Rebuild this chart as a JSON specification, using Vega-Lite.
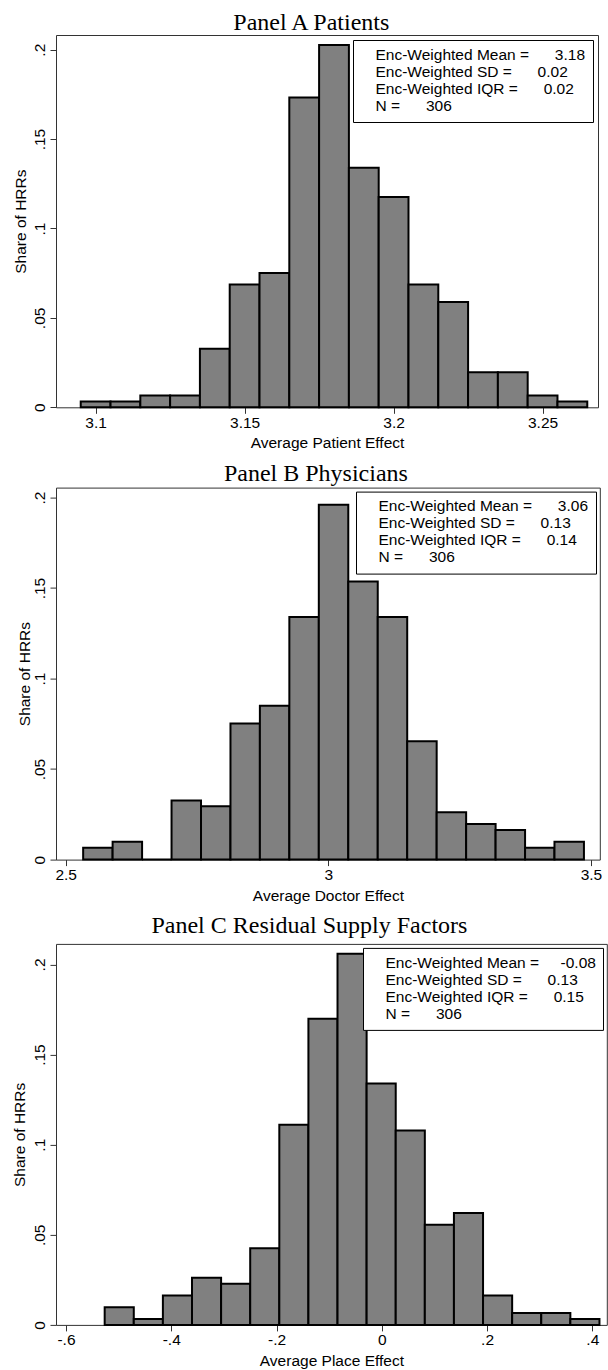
{
  "$schema": "https://vega.github.io/schema/vega-lite/v6.json",
  "padding": {"left": 12, "top": 10, "right": 0, "bottom": 0},
  "background": "white",
  "config": {
    "view": {"stroke": "#333333", "strokeWidth": 1},
    "axis": {
      "labelFont": "Liberation Sans", "labelFontSize": 15.5, "labelColor": "#000",
      "titleFont": "Liberation Sans", "titleFontSize": 15.5, "titleFontWeight": "normal", "titleColor": "#000",
      "tickColor": "#333333", "tickSize": 6, "tickWidth": 1, "domain": false, "grid": false,
      "labelPadding": 3, "labelOverlap": false, "labelFlush": false
    },
    "axisX": {"titlePadding": 5, "labelPadding": 2},
    "axisY": {"labelAngle": -90, "labelAlign": "center", "labelBaseline": "bottom"},
    "title": {"font": "Liberation Serif", "fontSize": 24, "fontWeight": "normal", "color": "#000", "anchor": "middle", "baseline": "alphabetic"},
    "legend": {
      "orient": "top-right", "offset": 5, "padding": 7, "strokeColor": "#000", "fillColor": "#fff",
      "labelFont": "Liberation Sans", "labelFontSize": 15.5, "labelColor": "#000", "labelLimit": 600,
      "symbolSize": 0, "symbolStrokeWidth": 0, "symbolOpacity": 0, "labelOffset": 0, "rowPadding": 0
    }
  },
  "datasets": {
    "histA": [
      {"bin_start": 3.095, "bin_end": 3.105, "share": 0.003268},
      {"bin_start": 3.105, "bin_end": 3.115, "share": 0.003268},
      {"bin_start": 3.115, "bin_end": 3.125, "share": 0.006536},
      {"bin_start": 3.125, "bin_end": 3.135, "share": 0.006536},
      {"bin_start": 3.135, "bin_end": 3.145, "share": 0.03268},
      {"bin_start": 3.145, "bin_end": 3.155, "share": 0.068627},
      {"bin_start": 3.155, "bin_end": 3.165, "share": 0.075163},
      {"bin_start": 3.165, "bin_end": 3.175, "share": 0.173203},
      {"bin_start": 3.175, "bin_end": 3.185, "share": 0.202614},
      {"bin_start": 3.185, "bin_end": 3.195, "share": 0.133987},
      {"bin_start": 3.195, "bin_end": 3.205, "share": 0.117647},
      {"bin_start": 3.205, "bin_end": 3.215, "share": 0.068627},
      {"bin_start": 3.215, "bin_end": 3.225, "share": 0.058824},
      {"bin_start": 3.225, "bin_end": 3.235, "share": 0.019608},
      {"bin_start": 3.235, "bin_end": 3.245, "share": 0.019608},
      {"bin_start": 3.245, "bin_end": 3.255, "share": 0.006536},
      {"bin_start": 3.255, "bin_end": 3.265, "share": 0.003268}
    ],
    "histB": [
      {"bin_start": 2.5332, "bin_end": 2.5893, "share": 0.006536},
      {"bin_start": 2.5893, "bin_end": 2.6454, "share": 0.009804},
      {"bin_start": 2.6454, "bin_end": 2.7015, "share": 0},
      {"bin_start": 2.7015, "bin_end": 2.7576, "share": 0.03268},
      {"bin_start": 2.7576, "bin_end": 2.8137, "share": 0.029412},
      {"bin_start": 2.8137, "bin_end": 2.8697, "share": 0.075163},
      {"bin_start": 2.8697, "bin_end": 2.9258, "share": 0.084967},
      {"bin_start": 2.9258, "bin_end": 2.9819, "share": 0.133987},
      {"bin_start": 2.9819, "bin_end": 3.038, "share": 0.196078},
      {"bin_start": 3.038, "bin_end": 3.0941, "share": 0.153595},
      {"bin_start": 3.0941, "bin_end": 3.1502, "share": 0.133987},
      {"bin_start": 3.1502, "bin_end": 3.2063, "share": 0.065359},
      {"bin_start": 3.2063, "bin_end": 3.2624, "share": 0.026144},
      {"bin_start": 3.2624, "bin_end": 3.3185, "share": 0.019608},
      {"bin_start": 3.3185, "bin_end": 3.3746, "share": 0.01634},
      {"bin_start": 3.3746, "bin_end": 3.4306, "share": 0.006536},
      {"bin_start": 3.4306, "bin_end": 3.4867, "share": 0.009804}
    ],
    "histC": [
      {"bin_start": -0.5265, "bin_end": -0.4712, "share": 0.009804},
      {"bin_start": -0.4712, "bin_end": -0.4159, "share": 0.003268},
      {"bin_start": -0.4159, "bin_end": -0.3606, "share": 0.01634},
      {"bin_start": -0.3606, "bin_end": -0.3053, "share": 0.026144},
      {"bin_start": -0.3053, "bin_end": -0.25, "share": 0.022876},
      {"bin_start": -0.25, "bin_end": -0.1947, "share": 0.042484},
      {"bin_start": -0.1947, "bin_end": -0.1394, "share": 0.111111},
      {"bin_start": -0.1394, "bin_end": -0.0841, "share": 0.169935},
      {"bin_start": -0.0841, "bin_end": -0.0288, "share": 0.205882},
      {"bin_start": -0.0288, "bin_end": 0.0265, "share": 0.133987},
      {"bin_start": 0.0265, "bin_end": 0.0818, "share": 0.107843},
      {"bin_start": 0.0818, "bin_end": 0.1371, "share": 0.055556},
      {"bin_start": 0.1371, "bin_end": 0.1924, "share": 0.062092},
      {"bin_start": 0.1924, "bin_end": 0.2477, "share": 0.01634},
      {"bin_start": 0.2477, "bin_end": 0.303, "share": 0.006536},
      {"bin_start": 0.303, "bin_end": 0.3583, "share": 0.006536},
      {"bin_start": 0.3583, "bin_end": 0.4136, "share": 0.003268}
    ],
    "statsA": [
      {"line": "Enc-Weighted Mean = 3.18"},
      {"line": "Enc-Weighted SD = 0.02"},
      {"line": "Enc-Weighted IQR = 0.02"},
      {"line": "N = 306"}
    ],
    "statsB": [
      {"line": "Enc-Weighted Mean = 3.06"},
      {"line": "Enc-Weighted SD = 0.13"},
      {"line": "Enc-Weighted IQR = 0.14"},
      {"line": "N = 306"}
    ],
    "statsC": [
      {"line": "Enc-Weighted Mean = -0.08"},
      {"line": "Enc-Weighted SD = 0.13"},
      {"line": "Enc-Weighted IQR = 0.15"},
      {"line": "N = 306"}
    ]
  },
  "resolve": {"scale": {"color": "independent"}},
  "spacing": 7.9,
  "vconcat": [
    {
      "resolve": {"scale": {"color": "independent"}},
      "spacing": 8.6,
      "vconcat": [
        {
          "width": 542, "height": 372.3,
          "title": {"text": "Panel A Patients", "offset": 0, "dx": -15.7},
          "layer": [
            {
              "data": {"name": "histA"},
              "mark": {"type": "bar", "fill": "#808080", "stroke": "#000", "strokeWidth": 2},
              "encoding": {
                "x": {"field": "bin_start", "type": "quantitative", "title": "Average Patient Effect",
                      "scale": {"domain": [3.0867, 3.2686], "nice": false, "zero": false},
                      "axis": {"values": [3.1, 3.15, 3.2, 3.25], "labelExpr": "replace(toString(datum.value), /^(-?)0\\./, '$1.')"}},
                "x2": {"field": "bin_end"},
                "y": {"field": "share", "type": "quantitative", "title": "Share of HRRs",
                      "scale": {"domain": [0, 0.2082], "nice": false},
                      "axis": {"values": [0, 0.05, 0.1, 0.15, 0.2], "titlePadding": 3.4, "labelExpr": "replace(toString(datum.value), /^(-?)0\\./, '$1.')"}},
                "y2": {"datum": 0}
              }
            },
            {
              "data": {"name": "statsA"},
              "mark": {"type": "point", "opacity": 0},
              "encoding": {
                "color": {"field": "line", "type": "nominal", "sort": null, "scale": {"range": ["#000"]},
                          "legend": {"title": null, "labelExpr": "'\u00a0' + replace(replace(datum.label, ' = ', ' =\u00a0\u00a0\u00a0\u00a0\u00a0\u00a0'), '\u00a0-', '-') + '\u00a0\u00a0'"}}
              }
            }
          ]
        },
        {
          "width": 543.8, "height": 372,
          "title": {"text": "Panel B Physicians", "offset": 1.6, "dx": -12},
          "layer": [
            {
              "data": {"name": "histB"},
              "mark": {"type": "bar", "fill": "#808080", "stroke": "#000", "strokeWidth": 2},
              "encoding": {
                "x": {"field": "bin_start", "type": "quantitative", "title": "Average Doctor Effect",
                      "scale": {"domain": [2.4815, 3.5169], "nice": false, "zero": false},
                      "axis": {"values": [2.5, 3, 3.5], "labelExpr": "replace(toString(datum.value), /^(-?)0\\./, '$1.')"}},
                "x2": {"field": "bin_end"},
                "y": {"field": "share", "type": "quantitative", "title": "Share of HRRs",
                      "scale": {"domain": [0, 0.2055], "nice": false},
                      "axis": {"values": [0, 0.05, 0.1, 0.15, 0.2], "titlePadding": 0, "labelExpr": "replace(toString(datum.value), /^(-?)0\\./, '$1.')"}},
                "y2": {"datum": 0}
              }
            },
            {
              "data": {"name": "statsB"},
              "mark": {"type": "point", "opacity": 0},
              "encoding": {
                "color": {"field": "line", "type": "nominal", "sort": null, "scale": {"range": ["#000"]},
                          "legend": {"title": null, "offset": 4, "labelExpr": "'\u00a0' + replace(replace(datum.label, ' = ', ' =\u00a0\u00a0\u00a0\u00a0\u00a0\u00a0'), '\u00a0-', '-') + '\u00a0\u00a0'"}}
              }
            }
          ]
        }
      ]
    },
    {
      "width": 550.8, "height": 381,
      "title": {"text": "Panel C Residual Supply Factors", "offset": 5.9, "dx": -22},
      "layer": [
        {
          "data": {"name": "histC"},
          "mark": {"type": "bar", "fill": "#808080", "stroke": "#000", "strokeWidth": 2},
          "encoding": {
            "x": {"field": "bin_start", "type": "quantitative", "title": "Average Place Effect",
                  "scale": {"domain": [-0.619, 0.42755], "nice": false, "zero": false},
                  "axis": {"values": [-0.6, -0.4, -0.2, 0, 0.2, 0.4], "labelExpr": "replace(toString(datum.value), /^(-?)0\\./, '$1.')"}},
            "x2": {"field": "bin_end"},
            "y": {"field": "share", "type": "quantitative", "title": "Share of HRRs",
                  "scale": {"domain": [0, 0.2114], "nice": false},
                  "axis": {"values": [0, 0.05, 0.1, 0.15, 0.2], "titlePadding": 4.4, "labelExpr": "replace(toString(datum.value), /^(-?)0\\./, '$1.')"}},
            "y2": {"datum": 0}
          }
        },
        {
          "data": {"name": "statsC"},
          "mark": {"type": "point", "opacity": 0},
          "encoding": {
            "color": {"field": "line", "type": "nominal", "sort": null, "scale": {"range": ["#000"]},
                      "legend": {"title": null, "offset": 4, "labelExpr": "'\u00a0' + replace(replace(datum.label, ' = ', ' =\u00a0\u00a0\u00a0\u00a0\u00a0\u00a0'), '\u00a0-', '-') + '\u00a0\u00a0\u00a0'"}}
          }
        }
      ]
    }
  ]
}
